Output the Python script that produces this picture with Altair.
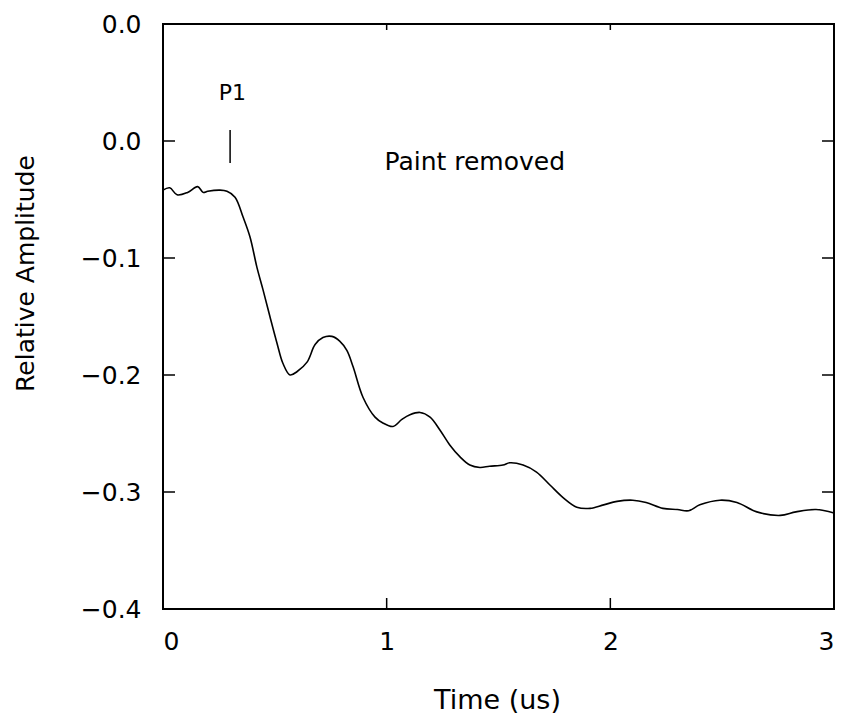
import altair as alt
import pandas as pd

# ---- data ----
time_us = [0.00, 0.03, 0.063, 0.11, 0.155, 0.18, 0.20, 0.255, 0.286, 0.322,
           0.358, 0.389, 0.42, 0.447, 0.478, 0.51, 0.536, 0.568, 0.60, 0.644,
           0.68, 0.715, 0.755, 0.79, 0.822, 0.85, 0.894, 0.948, 0.983, 1.028,
           1.068, 1.104, 1.149, 1.194, 1.238, 1.283, 1.328, 1.372, 1.417, 1.46,
           1.52, 1.55, 1.61, 1.67, 1.73, 1.79, 1.85, 1.91, 1.97, 2.03, 2.10,
           2.16, 2.235, 2.30, 2.35, 2.40, 2.49, 2.566, 2.655, 2.76, 2.83, 2.92,
           3.00]
amplitude = [-0.042, -0.040, -0.046, -0.044, -0.039, -0.044, -0.043, -0.042, -0.043,
             -0.048, -0.065, -0.082, -0.108, -0.127, -0.150, -0.173, -0.190,
             -0.200, -0.197, -0.189, -0.174, -0.168, -0.167, -0.171, -0.179,
             -0.193, -0.219, -0.236, -0.241, -0.244, -0.238, -0.234, -0.232,
             -0.236, -0.247, -0.260, -0.270, -0.277, -0.279, -0.278, -0.277,
             -0.275, -0.277, -0.283, -0.294, -0.305, -0.313, -0.314, -0.311,
             -0.308, -0.307, -0.309, -0.314, -0.315, -0.316, -0.311, -0.307,
             -0.309, -0.317, -0.320, -0.317, -0.315, -0.318]

x_ticks = [0, 1, 2, 3]
x_inner_ticks = [1, 2]
y_ticks = [-0.4, -0.3, -0.2, -0.1, 0.0, 0.1]
y_inner_ticks = [-0.3, -0.2, -0.1, 0.0]

marker_t = [0.30]
marker_top = [0.0094]
marker_bottom = [-0.0188]

label_text = ["P1", "Paint removed"]
label_t = [0.31, 0.99]
label_y = [0.041, -0.018]

W, H = 671, 585
FONT = "DejaVu Sans"

xs = alt.Scale(domain=[0, 3], nice=False, zero=False)
ys = alt.Scale(domain=[-0.4, 0.1], nice=False, zero=False)

curve_df = pd.DataFrame({"t": time_us, "a": amplitude})

line = alt.Chart(curve_df).mark_line(color="black", strokeWidth=1.6,
                                     interpolate="catmull-rom").encode(
    x=alt.X("t:Q", scale=xs,
            axis=alt.Axis(values=x_ticks, format="d", title="Time (us)",
                          grid=False, domain=False, ticks=False, labelPadding=20,
                          labelFontSize=25, labelFont=FONT, labelColor="black",
                          titleFontSize=27, titleFont=FONT, titleFontWeight="normal",
                          titleColor="black", titleX=334, titleY=91,
                          titleBaseline="middle", titleAlign="center")),
    y=alt.Y("a:Q", scale=ys,
            axis=alt.Axis(values=y_ticks, title="Relative Amplitude",
                          labelExpr="datum.value > 0.05 ? '0.0' : format(datum.value, '.1f')",
                          grid=False, domain=False, ticks=False, labelPadding=22,
                          labelFontSize=25, labelFont=FONT, labelColor="black",
                          titleFontSize=25, titleFont=FONT, titleFontWeight="normal",
                          titleColor="black", titleX=-138, titleY=249,
                          titleBaseline="middle", titleAlign="center", titleAngle=270)),
)

yt_df = pd.DataFrame({"v": y_inner_ticks})
left_ticks = alt.Chart(yt_df).mark_rule(color="black", strokeWidth=1.5).encode(
    y=alt.Y("v:Q", scale=ys), x=alt.value(0), x2=alt.value(12))
right_ticks = alt.Chart(yt_df).mark_rule(color="black", strokeWidth=1.5).encode(
    y=alt.Y("v:Q", scale=ys), x=alt.value(W), x2=alt.value(W - 12))

xt_df = pd.DataFrame({"v": x_inner_ticks})
bottom_ticks = alt.Chart(xt_df).mark_rule(color="black", strokeWidth=1.5).encode(
    x=alt.X("v:Q", scale=xs), y=alt.value(H), y2=alt.value(H - 11))
top_ticks = alt.Chart(xt_df).mark_rule(color="black", strokeWidth=1.5).encode(
    x=alt.X("v:Q", scale=xs), y=alt.value(0), y2=alt.value(6))

marker_df = pd.DataFrame({"t": marker_t, "y1": marker_top, "y2": marker_bottom})
marker = alt.Chart(marker_df).mark_rule(color="black", strokeWidth=1.5).encode(
    x=alt.X("t:Q", scale=xs), y=alt.Y("y1:Q", scale=ys), y2="y2:Q")

p1 = alt.Chart(pd.DataFrame({"t": [label_t[0]], "y": [label_y[0]], "s": [label_text[0]]})).mark_text(
    font=FONT, fontSize=22, color="black", align="center", baseline="middle").encode(
    x=alt.X("t:Q", scale=xs), y=alt.Y("y:Q", scale=ys), text="s:N")

paint = alt.Chart(pd.DataFrame({"t": [label_t[1]], "y": [label_y[1]], "s": [label_text[1]]})).mark_text(
    font=FONT, fontSize=25, color="black", align="left", baseline="middle").encode(
    x=alt.X("t:Q", scale=xs), y=alt.Y("y:Q", scale=ys), text="s:N")

chart = alt.layer(line, left_ticks, right_ticks, bottom_ticks, top_ticks, marker, p1, paint).properties(
    width=W, height=H,
    autosize=alt.AutoSizeParams(type="none"),
    padding={"left": 155, "top": 16, "right": 4, "bottom": 108},
    background="white",
).configure_view(stroke="black", strokeWidth=2)

chart.save("out.html", embed_options={"renderer": "svg", "actions": False})
